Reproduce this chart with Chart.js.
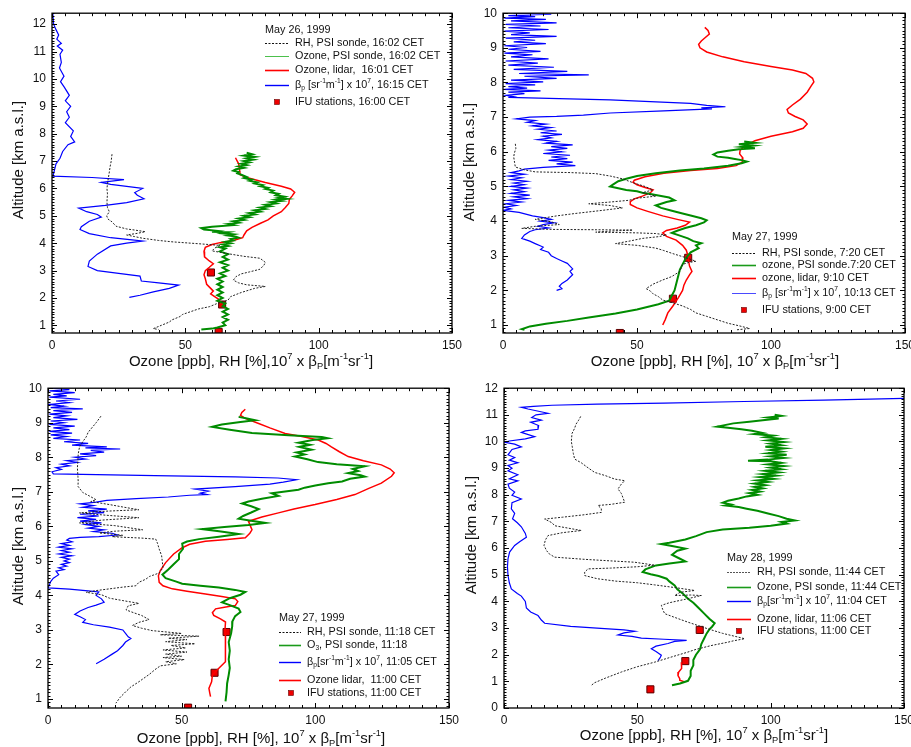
<!DOCTYPE html>
<html>
<head>
<meta charset="utf-8">
<script src="https://cdn.jsdelivr.net/npm/chart.js@4/dist/chart.umd.min.js"></script>
<style>
  html, body { margin: 0; padding: 0; background: #fff; overflow: hidden; }
  body { width: 911px; height: 747px; position: relative; }
  canvas { position: absolute; }
</style>
</head>
<body>
<canvas id="p1" width="470" height="372" style="left:0;top:0"></canvas>
<canvas id="p2" width="470" height="372" style="left:455px;top:0"></canvas>
<canvas id="p3" width="470" height="372" style="left:0;top:375px"></canvas>
<canvas id="p4" width="470" height="372" style="left:455px;top:375px"></canvas>
<script>
// ---- profiles: [value, altitude km] ----

// May 26, 1999
const rh1 = [[22.5,7.25],[22.2,7.0],[21.8,6.8],[21.5,6.6],[21,6.3],[20.6,6.0],[20.8,5.8],[20.6,5.5],[20.8,5.3],[21.5,5.15],[20.5,5.0],[21,4.88],[22.5,4.78],[24,4.62],[28,4.52],[31,4.48],[35,4.42],[32,4.36],[28,4.3],[31,4.24],[34,4.18],[40,4.1],[45,4.05],[55,3.98],[63,3.92],[61,3.82],[60,3.72],[64,3.65],[67,3.6],[72,3.52],[78,3.45],[80,3.3],[79.5,3.2],[78,3.05],[74,2.95],[71,2.88],[69,2.78],[68,2.65],[70,2.55],[73,2.48],[80,2.42],[76,2.35],[71,2.2],[67,2.05],[66,1.92],[62,1.8],[59,1.68],[55,1.6],[52,1.5],[49,1.4],[48,1.32],[45,1.2],[44,1.12],[41,1.0],[39,0.92],[38,0.88],[40,0.85]];
const sonde1 = [[73,7.3],[75,7.25],[72,7.2],[76,7.15],[73,7.1],[75.5,7.05],[72,7.0],[74,6.95],[71,6.9],[73,6.85],[70,6.8],[72,6.75],[69,6.7],[68,6.65],[70,6.6],[69.5,6.55],[71,6.5],[73,6.42],[72,6.38],[75,6.32],[74,6.28],[77,6.22],[76,6.18],[79,6.12],[78,6.08],[81,6.02],[80,5.98],[83,5.92],[82,5.86],[85,5.8],[84,5.75],[87,5.7],[85,5.66],[88,5.62],[84,5.58],[86,5.54],[82,5.5],[84,5.45],[80,5.4],[82,5.35],[78,5.3],[80,5.25],[76,5.2],[78,5.15],[74,5.1],[76,5.05],[72,5.0],[74,4.95],[70,4.9],[72,4.85],[68,4.8],[70,4.75],[66,4.7],[68,4.66],[60,4.6],[56,4.55],[57,4.5],[62,4.45],[60,4.42],[66,4.4],[64,4.36],[68,4.32],[66,4.28],[69,4.24],[70,4.2],[67,4.15],[68,4.1],[65,4.05],[67,4.0],[64,3.95],[66,3.9],[63,3.85],[65,3.8],[63,3.7],[66,3.6],[64,3.5],[66,3.4],[63,3.3],[66,3.2],[64,3.1],[66,3.0],[63,2.9],[65,2.8],[62,2.7],[64,2.6],[62,2.5],[64,2.4],[62,2.3],[64,2.2],[62,2.1],[64,2.0],[62,1.9],[65,1.8],[64,1.7],[66,1.6],[64,1.5],[66,1.4],[64,1.3],[66,1.2],[64,1.1],[65,1.0],[62,0.92],[60,0.88],[56,0.85]];
const lidar1 = [[68.8,7.12],[70,6.9],[70.3,6.7],[70.6,6.5],[73,6.4],[80,6.22],[86,6.08],[89.5,5.98],[91,5.86],[90,5.72],[89,5.6],[88.8,5.45],[87.5,5.3],[86,5.15],[83,5.0],[81,4.85],[78,4.72],[75,4.58],[73,4.45],[72,4.3],[71.5,4.2],[68,4.1],[63,4.02],[60,3.95],[57.5,3.85],[57,3.7],[57.2,3.5],[59,3.35],[60.5,3.25],[59,3.12],[57.5,3.0],[57,2.85],[57.5,2.7],[58,2.5],[59.5,2.35],[60.5,2.25],[59.5,2.15],[61,2.05],[63,1.92]];
const beta1 = [[0.3,12.4],[0.6,12.0],[1.5,11.8],[2.5,11.6],[1.8,11.45],[3.5,11.3],[2,11.2],[4,11.05],[3,10.9],[3.5,10.6],[2.8,10.4],[4.5,10.1],[3.2,9.9],[4.6,9.7],[6.5,9.4],[5,9.2],[7,9.0],[5.5,8.8],[6.5,8.6],[5,8.4],[8,8.1],[7,7.9],[8.5,7.7],[6,7.6],[4,7.35],[3,7.1],[1.5,6.9],[1,6.7],[0.5,6.5],[0,6.45],[15,6.4],[27,6.32],[18.5,6.22],[22,6.15],[34,6.0],[31,5.85],[32,5.75],[34.5,5.62],[28,5.48],[20,5.38],[10,5.28],[13,5.15],[17,5.05],[18.5,4.95],[14,4.8],[11,4.6],[10.5,4.5],[14,4.35],[22,4.2],[30,4.12],[34,4.08],[28,4.0],[22,3.9],[17,3.6],[14,3.35],[13.5,3.15],[17,3.0],[25,2.9],[33,2.8],[33.5,2.62],[40,2.55],[47.5,2.47],[44,2.35],[38,2.22],[33,2.1],[29,2.02]];
const ifu1 = [[59.6,2.93],[63.8,1.76],[62.5,0.76]];

// May 27, 1999 morning
const rh2 = [[4.6,6.23],[4.8,6.1],[4.2,5.95],[4,5.85],[4.3,5.7],[4.6,5.56],[8,5.48],[12,5.42],[25,5.4],[34.6,5.37],[40,5.3],[44.6,5.22],[47,5.15],[49.6,5.08],[53,5.0],[55.9,4.9],[52,4.82],[57,4.72],[50,4.66],[47,4.6],[40,4.55],[32,4.5],[40,4.45],[44.6,4.38],[36,4.3],[27,4.22],[20,4.15],[12,4.05],[18,3.98],[21,3.9],[12,3.85],[7,3.79],[18.4,3.76],[35,3.75],[48.4,3.74],[40,3.71],[34.6,3.68],[50,3.66],[57,3.64],[61,3.6],[58,3.55],[52,3.5],[47,3.42],[42,3.35],[50,3.3],[57,3.22],[60,3.15],[63.4,3.06],[68,2.95],[72,2.84],[69,2.8],[67,2.75],[66.5,2.65],[66,2.55],[63,2.4],[59.6,2.3],[56,2.18],[53.4,2.05],[55,1.98],[56,1.9],[58,1.82],[59.6,1.72],[63,1.65],[67,1.55],[70,1.45],[72,1.35],[76,1.25],[80,1.15],[84,1.05],[88,0.98],[92,0.9],[87,0.86]];
const sonde2 = [[90,6.3],[94,6.26],[88,6.22],[93.5,6.18],[89,6.14],[94,6.1],[88,6.07],[84,6.03],[80,5.98],[78.5,5.92],[80,5.86],[84,5.83],[86,5.8],[89,5.76],[91,5.72],[89,5.67],[84,5.6],[75,5.52],[66,5.46],[57,5.38],[50,5.3],[46,5.22],[43,5.15],[41,5.05],[40,5.0],[43,4.95],[46,4.9],[50,4.86],[52,4.82],[55,4.78],[58,4.74],[62,4.68],[64,4.6],[61,4.55],[57,4.45],[59,4.38],[63,4.3],[67,4.22],[70,4.16],[74,4.08],[76,4.02],[75,3.96],[72,3.88],[68,3.8],[65,3.72],[63,3.66],[66,3.58],[69,3.5],[71,3.42],[74,3.36],[72,3.3],[73,3.22],[70,3.1],[69,3.0],[68,2.9],[67,2.75],[66,2.6],[65.5,2.45],[65,2.3],[64.5,2.15],[64,2.0],[63,1.85],[62,1.7],[58,1.6],[50,1.45],[42,1.33],[32,1.22],[24,1.12],[16,1.04],[10,0.96],[7,0.88],[8,0.86]];
const lidar2 = [[75.3,9.59],[76.5,9.5],[77,9.4],[75.5,9.3],[74,9.2],[73,9.1],[73.5,9.0],[76,8.88],[82,8.74],[90,8.6],[100,8.46],[108,8.36],[113,8.26],[115.5,8.12],[116,8.02],[115,7.9],[113.5,7.72],[111,7.52],[108,7.35],[106,7.22],[106.5,7.12],[109,7.02],[112,6.92],[113.5,6.8],[112,6.68],[108,6.58],[100,6.45],[94,6.32],[90.5,6.18],[88.5,6.05],[88.3,5.94],[89.5,5.82],[89.3,5.7],[87,5.6],[80,5.52],[70,5.46],[60,5.38],[53,5.28],[49,5.18],[48.5,5.12],[50,5.05],[53,4.97],[56,4.9],[55,4.82],[52,4.72],[49,4.64],[47.5,4.56],[47.5,4.48],[50,4.38],[54,4.28],[59.6,4.15],[65,4.05],[69.6,3.97],[68,3.88],[65,3.8],[61,3.73],[59.6,3.66],[61,3.56],[64.6,3.45],[67,3.3],[68.4,3.16],[69,3.0],[69.2,2.87],[69.6,2.7],[70.5,2.55],[69.6,2.45],[68.4,2.3],[67.5,2.15],[67,2.0],[65.5,1.8],[63.4,1.55],[61.5,1.35],[60.5,1.15],[59.6,1.0]];
const beta2 = [[4,10.0],[18,9.97],[2,9.93],[12,9.9],[0.5,9.86],[16,9.82],[3,9.78],[20,9.72],[1,9.68],[14,9.63],[2,9.58],[17,9.53],[0.5,9.48],[10,9.43],[3,9.38],[20,9.33],[1,9.28],[12,9.22],[4,9.17],[16,9.12],[0.5,9.06],[9,9.01],[2,8.96],[14,8.9],[0.5,8.85],[11,8.8],[3,8.74],[17,8.68],[1,8.62],[13,8.56],[2,8.5],[19,8.44],[4,8.38],[24,8.32],[6,8.26],[32,8.22],[8,8.18],[20,8.12],[3,8.07],[15,8.02],[1,7.97],[12,7.93],[2,7.88],[9,7.84],[0.5,7.8],[14,7.76],[2,7.72],[8,7.68],[1,7.63],[4,7.59],[2,7.57],[40,7.5],[70,7.4],[76,7.34],[83,7.3],[74,7.27],[78,7.24],[60,7.18],[40,7.12],[30,7.06],[20,7.02],[10,7.0],[5,6.95],[12,6.9],[9,6.85],[16,6.8],[11,6.75],[18,6.7],[13,6.65],[20,6.6],[14,6.55],[22,6.5],[15,6.45],[18,6.4],[13,6.35],[20,6.3],[16,6.25],[26,6.2],[18,6.15],[24,6.1],[17,6.05],[22,6.0],[15,5.95],[25,5.9],[18,5.85],[24,5.8],[17,5.75],[26,5.7],[20,5.65],[27,5.6],[15,5.55],[8,5.5],[6,5.45],[3,5.4],[8,5.35],[2,5.3],[7,5.25],[3,5.2],[9,5.15],[4,5.1],[8,5.05],[3,5.0],[9,4.95],[4,4.9],[8,4.85],[3,4.8],[10,4.75],[4,4.7],[9,4.65],[2,4.6],[7,4.55],[1,4.5],[5,4.45],[0.5,4.4],[3,4.35],[0,4.31],[6,4.25],[11,4.15],[15,4.1],[18,4.05],[14,4.0],[19,3.95],[15,3.9],[13,3.85],[17,3.8],[12,3.75],[10,3.7],[8,3.6],[7,3.5],[10,3.42],[12,3.35],[15,3.25],[14,3.18],[17,3.1],[18,3.0],[20,2.92],[22,2.85],[24,2.78],[25,2.7],[26,2.62],[25,2.55],[26,2.45],[25,2.38],[24,2.3],[22,2.2],[21,2.12],[22,2.05],[20,2.0]];
const ifu2 = [[69.1,2.94],[63.4,1.76],[43.6,0.77]];

// May 27, 1999 late morning
const rh3 = [[19.8,9.19],[18,9.0],[16.7,8.88],[15,8.72],[14.3,8.59],[13,8.45],[11.8,8.3],[11.3,8.1],[11.2,7.92],[11,7.7],[11.2,7.44],[11.3,7.3],[11.2,7.16],[13,6.98],[15,6.9],[18,6.77],[16,6.72],[23,6.63],[28,6.56],[34,6.48],[22,6.44],[11.8,6.39],[22,6.32],[34,6.25],[20,6.18],[11.8,6.1],[25,6.02],[35.4,5.9],[25,5.86],[19.2,5.81],[28,5.74],[24,5.7],[35,5.66],[40.3,5.63],[41,5.5],[41.6,5.34],[42.5,5.15],[42.8,4.95],[43,4.8],[41.6,4.65],[38,4.55],[36.6,4.47],[34,4.38],[32.9,4.28],[28,4.24],[23,4.19],[18,4.14],[14.3,4.09],[20,4.02],[23,3.92],[28,3.85],[34,3.77],[30,3.7],[29.2,3.58],[32,3.5],[35,3.42],[37.8,3.3],[34,3.22],[31.6,3.13],[35,3.05],[39,2.98],[50,2.9],[42,2.86],[56.5,2.82],[45,2.76],[52,2.72],[44,2.66],[55,2.6],[46,2.55],[51.5,2.48],[43,2.42],[52,2.36],[44,2.3],[50,2.24],[43,2.2],[51,2.14],[44,2.08],[48,2.02],[42,1.96],[40,1.85],[38,1.72],[34,1.5],[31,1.35],[29.2,1.22],[27,1.05],[25.4,0.88]];
const sonde3 = [[71.3,9.17],[74,9.13],[77.5,9.07],[72,9.02],[65,8.95],[61.4,8.88],[68,8.8],[76.3,8.7],[90,8.64],[102.4,8.59],[104.7,8.55],[99,8.5],[93.7,8.42],[98,8.36],[94,8.3],[98.6,8.22],[93,8.14],[96,8.08],[92.4,8.02],[97,7.94],[101,7.86],[108,7.8],[118.5,7.74],[114,7.66],[116,7.6],[112.3,7.54],[117,7.48],[118.5,7.44],[113,7.38],[110,7.3],[104.8,7.25],[100,7.18],[96,7.12],[93.7,7.06],[88,7.0],[83.7,6.96],[86.2,6.88],[80,6.8],[75,6.72],[72.6,6.66],[76,6.58],[78.8,6.5],[76,6.4],[73,6.3],[71.3,6.22],[76,6.16],[81.3,6.1],[75,6.04],[66,5.98],[57.7,5.92],[64,5.86],[71.3,5.78],[64,5.7],[56.5,5.63],[52,5.56],[50.2,5.5],[50.5,5.35],[49,5.2],[49,5.05],[47,4.9],[45,4.75],[42.8,4.6],[44,4.5],[48,4.4],[50.2,4.34],[57,4.28],[63.9,4.23],[70,4.16],[73.8,4.1],[72,4.02],[68,3.92],[65.1,3.8],[68,3.72],[71.3,3.62],[72,3.52],[70,3.4],[69,3.25],[68.9,3.1],[68.5,2.9],[67.6,2.65],[68,2.4],[67.6,2.15],[68,1.9],[67.6,1.7],[67,1.45],[66.8,1.2],[66.4,0.93]];
const lidar3 = [[73.8,9.39],[72.5,9.3],[72,9.21],[74,9.12],[78.8,8.98],[83,8.85],[88.7,8.69],[95,8.6],[101.1,8.5],[104,8.4],[106,8.3],[109,8.16],[112.3,8.02],[118,7.9],[124.7,7.78],[128,7.66],[129.5,7.55],[128.5,7.45],[124.7,7.25],[120,7.1],[114.8,6.92],[108,6.78],[99.9,6.63],[92,6.5],[86.2,6.39],[80,6.27],[75,6.15],[75.5,6.05],[76.3,5.9],[75.5,5.8],[73.8,5.67],[67,5.62],[58.9,5.57],[53,5.48],[50.2,5.38],[47,5.2],[44,4.95],[42,4.72],[41.3,4.57],[41.6,4.38],[43,4.28],[46.5,4.19],[52,4.12],[58.9,4.04],[65,3.97],[70.1,3.9],[71,3.82],[70.1,3.71],[66,3.66],[62.7,3.61],[61.5,3.5],[62,3.42],[64.5,3.32],[66.4,3.23],[66.2,3.0],[66.4,2.8],[66.3,2.6],[66.4,2.35],[66.4,2.08],[64,1.9],[61.5,1.7],[61.2,1.5],[60.2,1.31],[60.5,1.18],[60.8,1.07]];
const beta3 = [[1,10.0],[8,9.96],[0.5,9.92],[10,9.87],[2,9.82],[7,9.78],[0.5,9.74],[12,9.68],[3,9.63],[8,9.58],[0.5,9.53],[6,9.48],[1,9.44],[13,9.4],[2,9.35],[9,9.3],[0.5,9.25],[7,9.2],[2,9.15],[11,9.1],[1,9.05],[6,9.0],[0.5,8.95],[10,8.9],[2,8.85],[8,8.8],[0.5,8.75],[9,8.7],[1,8.65],[7,8.6],[2,8.55],[12,8.5],[6,8.45],[15,8.4],[9,8.35],[22,8.3],[14,8.27],[27,8.24],[16,8.2],[21,8.15],[12,8.1],[18,8.05],[10,8.0],[14,7.95],[7,7.9],[11,7.85],[5,7.8],[8,7.75],[3,7.7],[5,7.65],[1.5,7.58],[2,7.52],[40,7.47],[70,7.43],[86,7.4],[93,7.35],[88,7.28],[83,7.22],[70,7.15],[55,7.08],[60,7.02],[57,6.96],[59.5,6.92],[53,6.9],[45,6.85],[33,6.8],[22,6.75],[18,6.7],[12,6.65],[17,6.6],[13,6.55],[22,6.5],[15,6.45],[21,6.4],[12,6.35],[19,6.3],[11,6.25],[18,6.2],[12,6.15],[20,6.1],[14,6.05],[19,6.0],[15,5.95],[21,5.9],[17,5.85],[24,5.8],[26,5.75],[19,5.7],[12,5.68],[8,5.65],[7,5.6],[9,5.55],[5,5.5],[8,5.45],[4,5.4],[9,5.35],[5,5.3],[8,5.25],[4,5.2],[9,5.15],[5,5.1],[8,5.05],[6,5.0],[8,4.95],[5,4.9],[7,4.85],[4,4.8],[6,4.75],[3,4.7],[4,4.6],[2,4.5],[1,4.4],[0.5,4.3],[0,4.22],[8,4.18],[15,4.13],[19,4.1],[18,4.0],[20,3.9],[21,3.8],[18,3.72],[15,3.65],[12,3.55],[10,3.45],[12,3.38],[14,3.3],[13,3.22],[17,3.15],[23,3.08],[28,3.0],[29,2.9],[30,2.8],[31,2.75],[29,2.65],[28,2.55],[26,2.4],[24,2.3],[21,2.15],[18,2.02]];
const ifu3 = [[66.8,2.94],[62.3,1.76],[52.4,0.75]];

// May 28, 1999
const rh4 = [[28.75,10.94],[28,10.8],[27,10.65],[26.5,10.5],[25.5,10.3],[25.25,10.0],[25.6,9.8],[26,9.55],[26.5,9.34],[29,9.2],[31,9.05],[34,8.84],[38,8.72],[41.5,8.59],[45.25,8.53],[44,8.4],[42.75,8.22],[44,8.05],[45.25,7.72],[40,7.64],[35.25,7.6],[36.5,7.48],[36.5,7.34],[30,7.25],[22,7.16],[15.25,7.09],[18,6.95],[19,6.84],[24,6.75],[29,6.66],[22,6.58],[16.5,6.47],[15.5,6.3],[15,6.1],[16,5.9],[17,5.78],[19,5.66],[30,5.58],[40,5.52],[49,5.47],[56.5,5.36],[50,5.3],[40,5.25],[31.5,5.22],[30.25,5.1],[30.25,4.97],[35,4.85],[42,4.76],[50,4.7],[56.5,4.62],[64,4.52],[71.5,4.41],[66,4.34],[64,4.22],[70,4.24],[74,4.22],[68,4.08],[62,3.95],[59,3.85],[59.5,3.7],[60.25,3.54],[64,3.4],[69,3.22],[72,3.12],[76.5,2.97],[82,2.8],[87,2.68],[90.25,2.6],[86,2.52],[84,2.47],[78,2.35],[72,2.2],[69,2.1],[63,1.92],[56.5,1.72],[50,1.55],[44,1.35],[38,1.12],[34,0.95],[32.75,0.85]];
const sonde4 = [[101.5,11.0],[104,10.96],[99,10.9],[103,10.86],[97,10.8],[92,10.74],[86,10.68],[80,10.56],[84,10.52],[89,10.46],[93,10.4],[97,10.32],[94,10.28],[101,10.22],[98,10.16],[104,10.1],[99,10.04],[105,9.98],[100,9.92],[104,9.86],[98,9.8],[105,9.74],[100,9.68],[104,9.62],[99,9.56],[106,9.5],[100,9.44],[105,9.38],[99,9.32],[91.5,9.28],[100,9.26],[104,9.2],[99,9.14],[105,9.08],[100,9.02],[104,8.96],[98,8.9],[103,8.84],[97,8.78],[102,8.72],[96,8.66],[101,8.6],[95,8.54],[99,8.48],[94,8.42],[98,8.36],[94,8.3],[97,8.24],[93,8.18],[96,8.12],[92,8.06],[95,8.0],[91,7.94],[88,7.86],[84,7.78],[82,7.7],[85,7.64],[83,7.6],[88,7.54],[91,7.48],[95,7.4],[99,7.3],[103,7.2],[106,7.1],[109,7.04],[104,6.98],[106,6.92],[100,6.84],[92,6.76],[82,6.7],[76,6.6],[72,6.45],[68,6.32],[62,6.2],[59,6.15],[63,6.08],[68,5.98],[65,5.9],[63,5.75],[66,5.6],[68,5.5],[62,5.42],[57,5.35],[53,5.2],[52,5.1],[55,5.02],[58,4.95],[61,4.85],[62,4.75],[64,4.6],[65,4.45],[67,4.3],[69,4.1],[71,3.95],[73,3.75],[75,3.55],[77,3.35],[79,3.18],[78,3.05],[77,2.95],[76,2.8],[75,2.6],[74,2.4],[73.5,2.2],[72,2.0],[71,1.8],[71,1.6],[70,1.4],[70,1.2],[69,1.02],[66,0.92],[63,0.85]];
const lidar4 = [[66.5,1.72],[66.7,1.6],[66.5,1.48],[65.5,1.35],[65.25,1.22],[65.9,1.1],[65.9,1.04],[67.75,0.98]];
const beta4 = [[150,11.62],[120,11.55],[90,11.5],[60,11.44],[35,11.4],[18,11.36],[11,11.32],[6.5,11.28],[9,11.22],[16.5,11.06],[12,11.0],[10.4,10.9],[14,10.8],[10,10.72],[13,10.6],[12.75,10.46],[8,10.4],[6.5,10.34],[11.5,10.18],[8,10.1],[2,10.02],[0.3,9.97],[4,9.9],[6.5,9.8],[3,9.7],[1.5,9.5],[4,9.4],[2,9.3],[5.2,9.2],[1.5,9.1],[3,9.0],[1.5,8.9],[5.2,8.75],[2,8.6],[5.2,8.52],[1.5,8.4],[2,8.25],[4,8.1],[3,7.98],[6.5,7.84],[3,7.7],[2.75,7.47],[4,7.3],[3.2,7.1],[5,6.95],[6.5,6.8],[8,6.55],[8.4,6.41],[6,6.25],[4,6.1],[2.1,5.85],[1.5,5.6],[1.3,5.3],[1.5,4.97],[2,4.7],[2.75,4.47],[5,4.3],[6.5,4.2],[8,4.0],[8.4,3.75],[10,3.6],[12.75,3.47],[14,3.3],[15.25,3.18],[25,3.06],[37.75,2.98],[45,2.93],[49,2.88],[45,2.82],[42.75,2.74],[48,2.69],[51.5,2.62],[60,2.58],[66.5,2.55],[68.5,2.54],[64,2.5],[61.5,2.42],[57,2.32],[55.25,2.22],[57,2.12],[59,1.98],[58.5,1.88],[57.75,1.78]];
const ifu4 = [[73.4,2.93],[68,1.76],[54.9,0.7]];

const xTicks = [0, 50, 100, 150];

// ---- look ----
const FONT = '"Liberation Sans", Arial, sans-serif';
const W = 470, H = 372;
const LEGEND_SIZE = 10.8;
const COLORS = { rh: '#222', sonde: '#008c00', lidar: '#ff0000', beta: '#0000ff', ifu: '#ee0000' };

const panels = [
  { id: 'p1', left: 52, right: 452, top: 11, bottom: 333, yMin: 0.72, yMax: 12.4,
    rh: rh1, sonde: sonde1, lidar: lidar1, beta: beta1, ifu: ifu1,
    yTitle: [19, 160], xTitle: [251, 362, 'Ozone [ppb], RH [%],10^{7} x β_{P}[m^{-1}sr^{-1}]'],
    legend: { x: 265, textX: 295, head: [30, 'May 26, 1999'], rows: [
      [43, 'rh', 'RH, PSI sonde, 16:02 CET'],
      [56, 'sondeLight', 'Ozone, PSI sonde, 16:02 CET'],
      [70, 'lidar', 'Ozone, lidar,  16:01 CET'],
      [85, 'beta', 'β_{p} [sr^{-1}m^{-1}] x 10^{7}, 16:15 CET'],
      [102, 'ifu', 'IFU stations, 16:00 CET']] } },
  { id: 'p2', left: 48, right: 450, top: 12, bottom: 333, yMin: 0.77, yMax: 10,
    rh: rh2, sonde: sonde2, lidar: lidar2, beta: beta2, ifu: ifu2,
    yTitle: [15, 162], xTitle: [260, 362, 'Ozone [ppb], RH [%], 10^{7} x β_{P}[m^{-1}sr^{-1}]'],
    legend: { x: 277, textX: 307, head: [237, 'May 27, 1999'], rows: [
      [253, 'rh', 'RH, PSI sonde, 7:20 CET'],
      [265, 'sonde', 'ozone, PSI sonde.7:20 CET'],
      [278, 'lidar', 'ozone, lidar, 9:10 CET'],
      [293, 'betaThin', 'β_{p} [sr^{-1}m^{-1}] x 10^{7}, 10:13 CET'],
      [310, 'ifu', 'IFU stations, 9:00 CET']] } },
  { id: 'p3', left: 48, right: 449, top: 11, bottom: 333, yMin: 0.74, yMax: 10,
    rh: rh3, sonde: sonde3, lidar: lidar3, beta: beta3, ifu: ifu3,
    yTitle: [19, 171], xTitle: [261, 364, 'Ozone [ppb], RH [%], 10^{7} x β_{P}[m^{-1}sr^{-1}]'],
    legend: { x: 279, textX: 307, head: [243, 'May 27, 1999'], rows: [
      [257, 'rh', 'RH, PSI sonde, 11:18 CET'],
      [270, 'sonde', 'O_{3}, PSI sonde, 11:18'],
      [287, 'beta', 'β_{p}[sr^{-1}m^{-1}] x 10^{7}, 11:05 CET'],
      [305, 'lidar', 'Ozone lidar,  11:00 CET'],
      [318, 'ifu', 'IFU stations, 11:00 CET']] } },
  { id: 'p4', left: 49, right: 449, top: 12, bottom: 333, yMin: 0, yMax: 12,
    rh: rh4, sonde: sonde4, lidar: lidar4, beta: beta4, ifu: ifu4,
    yTitle: [17, 160], xTitle: [249, 361, 'Ozone [ppb], RH [%], 10^{7} x β_{P}[m^{-1}sr^{-1}]'],
    legend: { x: 272, textX: 302, head: [183, 'May 28, 1999'], rows: [
      [197, 'rhLight', 'RH, PSI sonde, 11:44 CET'],
      [212, 'sonde', 'Ozone, PSI sonde, 11:44 CET'],
      [226, 'beta', 'β_{p}[sr^{-1}m^{-1}] x 10^{7}, 11:04 CET'],
      [244, 'lidar', 'Ozone, lidar, 11:06 CET'],
      [256, 'ifu', 'IFU stations, 11:00 CET']] } }
];

// legend sample line styles
const SAMPLE = {
  rh: { color: '#111', width: 1, dash: [2, 1.5] },
  rhLight: { color: '#555', width: 1, dash: [2, 1] },
  sonde: { color: '#1a9a1a', width: 1.6 },
  sondeLight: { color: '#4cc04c', width: 1 },
  lidar: { color: '#ff0000', width: 1.6 },
  beta: { color: '#0000ff', width: 1.4 },
  betaThin: { color: '#4a4aff', width: 1 }
};

// text with ^{sup} and _{sub} parts
function parseRich(str) {
  const parts = [];
  const re = /([\^_])\{([^}]*)\}/g;
  let last = 0, m;
  while ((m = re.exec(str))) {
    if (m.index > last) parts.push({ t: str.slice(last, m.index), k: '' });
    parts.push({ t: m[2], k: m[1] });
    last = re.lastIndex;
  }
  if (last < str.length) parts.push({ t: str.slice(last), k: '' });
  return parts;
}

function drawRich(ctx, str, x, y, size, align) {
  const parts = parseRich(str);
  const fontFor = k => (k ? size * 0.62 : size) + 'px ' + FONT;
  let w = 0;
  parts.forEach(p => { ctx.font = fontFor(p.k); p.w = ctx.measureText(p.t).width; w += p.w; });
  let cx = align === 'center' ? x - w / 2 : x;
  ctx.textAlign = 'left';
  ctx.textBaseline = 'middle';
  parts.forEach(p => {
    ctx.font = fontFor(p.k);
    const dy = p.k === '^' ? -size * 0.4 : p.k === '_' ? size * 0.3 : 0;
    ctx.fillText(p.t, cx, y + dy);
    cx += p.w;
  });
}

// box with inward ticks on all sides, axis titles and the legend block
function framePlugin(p) {
  return {
    id: 'frame',
    afterDraw(chart) {
      const ctx = chart.ctx;
      const { left, right, top, bottom } = chart.chartArea;
      const xs = chart.scales.x, ys = chart.scales.y;
      ctx.save();
      ctx.strokeStyle = '#000';
      ctx.lineWidth = 1;
      ctx.beginPath();
      for (let v = 0; v <= 150; v += 5) {
        const px = Math.round(xs.getPixelForValue(v)) + 0.5;
        const len = v % 50 === 0 ? 5 : 3;
        ctx.moveTo(px, bottom); ctx.lineTo(px, bottom - len);
        ctx.moveTo(px, top); ctx.lineTo(px, top + len);
      }
      for (let i = Math.ceil(ys.min * 10); i <= Math.floor(ys.max * 10); i++) {
        const py = Math.round(ys.getPixelForValue(i / 10)) + 0.5;
        const len = i % 10 === 0 ? 5 : 2.5;
        ctx.moveTo(left, py); ctx.lineTo(left + len, py);
        ctx.moveTo(right, py); ctx.lineTo(right - len, py);
      }
      ctx.stroke();
      ctx.lineWidth = 1.3;
      ctx.strokeRect(left, top, right - left, bottom - top);

      // axis titles
      ctx.fillStyle = '#111';
      drawRich(ctx, p.xTitle[2], p.xTitle[0], p.xTitle[1], 15, 'center');
      ctx.save();
      ctx.translate(p.yTitle[0], p.yTitle[1]);
      ctx.rotate(-Math.PI / 2);
      drawRich(ctx, 'Altitude [km a.s.l.]', 0, 0, 15, 'center');
      ctx.restore();

      // legend
      const lg = p.legend;
      ctx.fillStyle = '#111';
      drawRich(ctx, lg.head[1], lg.x, lg.head[0], LEGEND_SIZE, 'left');
      lg.rows.forEach(([y, kind, text]) => {
        if (kind === 'ifu') {
          const cx = lg.x + 12;
          ctx.fillStyle = COLORS.ifu;
          ctx.fillRect(cx - 2.5, y - 2.5, 5, 5);
          ctx.strokeStyle = '#600';
          ctx.lineWidth = 0.6;
          ctx.setLineDash([]);
          ctx.strokeRect(cx - 2.5, y - 2.5, 5, 5);
        } else {
          const s = SAMPLE[kind];
          ctx.strokeStyle = s.color;
          ctx.lineWidth = s.width;
          ctx.setLineDash(s.dash || []);
          ctx.beginPath();
          ctx.moveTo(lg.x, y + 0.5);
          ctx.lineTo(lg.textX - 6, y + 0.5);
          ctx.stroke();
          ctx.setLineDash([]);
        }
        ctx.fillStyle = '#111';
        drawRich(ctx, text, lg.textX, y, LEGEND_SIZE, 'left');
      });
      ctx.restore();
    }
  };
}

function makeChart(p) {
  const line = (rows, color, width, dash) => ({
    data: rows.map(([x, y]) => ({ x, y })),
    showLine: true, pointRadius: 0, borderColor: color, borderWidth: width,
    borderDash: dash || [], fill: false, tension: 0
  });
  new Chart(document.getElementById(p.id), {
    type: 'scatter',
    data: {
      datasets: [
        line(p.rh, COLORS.rh, 1, [2, 1.5]),
        line(p.beta, COLORS.beta, 1.2),
        line(p.sonde, COLORS.sonde, 2),
        line(p.lidar, COLORS.lidar, 1.5),
        {
          data: p.ifu.map(([x, y]) => ({ x, y })),
          showLine: false, pointStyle: 'rect', pointRadius: 5,
          backgroundColor: COLORS.ifu, borderColor: '#5a0000', borderWidth: 1
        }
      ]
    },
    options: {
      responsive: false,
      animation: false,
      events: [],
      layout: { padding: { left: 0, top: p.top, right: W - p.right, bottom: 0 } },
      plugins: { legend: { display: false }, tooltip: { enabled: false } },
      scales: {
        x: {
          type: 'linear', min: 0, max: 150,
          grid: { display: false, drawTicks: false }, border: { display: false },
          afterBuildTicks: s => { s.ticks = xTicks.map(v => ({ value: v })); },
          ticks: { padding: 5, color: '#111', maxRotation: 0, font: { size: 12, family: FONT } },
          afterFit: s => { s.height = H - p.bottom; }
        },
        y: {
          type: 'linear', min: p.yMin, max: p.yMax,
          grid: { display: false, drawTicks: false }, border: { display: false },
          ticks: { stepSize: 1, includeBounds: false, padding: 6, color: '#111', font: { size: 12, family: FONT } },
          afterFit: s => { s.width = p.left; }
        }
      }
    },
    plugins: [framePlugin(p)]
  });
}

panels.forEach(makeChart);
</script>
</body>
</html>
